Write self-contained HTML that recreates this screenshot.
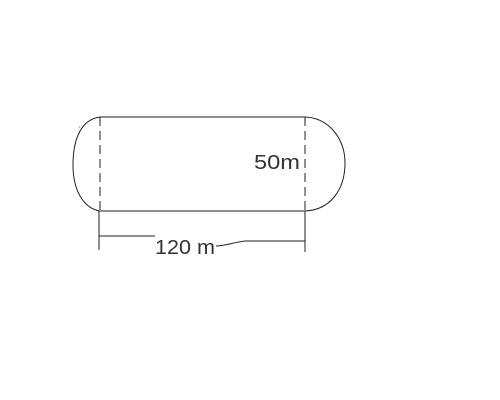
<!DOCTYPE html>
<html><head><meta charset="utf-8"><style>html,body{margin:0;padding:0;background:#fff;width:500px;height:400px;overflow:hidden}</style></head>
<body>
<svg width="500" height="400" style="display:block">
<rect width="500" height="400" fill="#fff"/>
<g stroke="#222" stroke-width="1" fill="none">
<line x1="100" y1="117" x2="305" y2="117"/>
<line x1="100" y1="211" x2="305" y2="211"/>
<line x1="100" y1="117" x2="100" y2="211" stroke-dasharray="9,5"/>
<line x1="305" y1="117" x2="305" y2="211" stroke-dasharray="9,5"/>
<path d="M100 117 C78 120 73 145 73 165 C73 188 82 208 100 211"/>
<path d="M305 117 C330 118 345 140 345 163 C345 190 330 210 305 211"/>
<line x1="99" y1="211" x2="99" y2="250"/>
<line x1="305" y1="211" x2="305" y2="252"/>
<path d="M99 236 L155 236 M216 246 C225 246 235 242 245 241 L305 241"/>
<line x1="79" y1="126" x2="80" y2="128" stroke="#aaa"/>
</g>
<text x="155" y="254" font-family="Liberation Sans, sans-serif" font-size="20" fill="#333" textLength="60" lengthAdjust="spacingAndGlyphs">120 m</text>
<text x="254" y="169" font-family="Liberation Sans, sans-serif" font-size="20" fill="#333" textLength="46" lengthAdjust="spacingAndGlyphs">50m</text>
</svg>
</body></html>
